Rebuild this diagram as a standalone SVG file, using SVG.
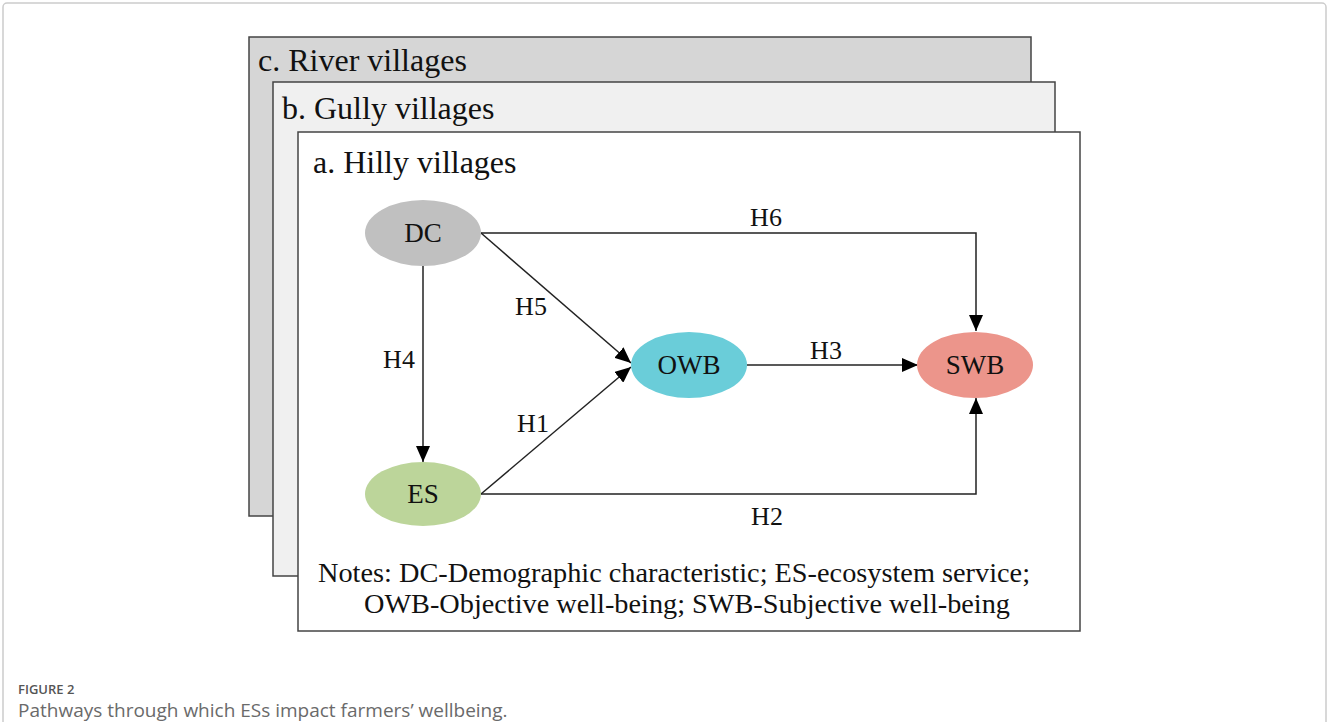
<svg xmlns="http://www.w3.org/2000/svg" width="1327" height="722" viewBox="0 0 1327 722">
<style>
.frame{fill:none;stroke:#cccccc;stroke-width:1.5}
.panel{stroke:#444;stroke-width:1.5}
.ttl{font-family:"Liberation Serif",serif;font-size:32px;fill:#111}
.lbl{font-family:"Liberation Serif",serif;font-size:27px;fill:#111;text-anchor:middle}
.hl{font-family:"Liberation Serif",serif;font-size:26px;fill:#111;text-anchor:middle}
.note{font-family:"Liberation Serif",serif;font-size:28px;fill:#111}
.edge{fill:none;stroke:#222;stroke-width:1.5}
.cap1{font-family:"Open Sans","Liberation Sans",sans-serif;font-size:13px;fill:#555;font-weight:600}
.cap2{font-family:"Open Sans","Liberation Sans",sans-serif;font-size:19px;fill:#6a6a6a}
</style>
<defs>
<marker id="arr" markerWidth="16" markerHeight="14" refX="16" refY="7" orient="auto" markerUnits="userSpaceOnUse">
<path d="M0,0 L16,7 L0,14 Z" fill="#000"/>
</marker>
</defs>
<rect x="3" y="3" width="1323" height="730" rx="4" class="frame"/>
<g id="panel-c"><rect x="249" y="37" width="782" height="479" fill="#d6d6d6" class="panel"/><text x="258" y="71" class="ttl">c. River villages</text></g>
<g id="panel-b"><rect x="273" y="82" width="782" height="494" fill="#f0f0f0" class="panel"/><text x="282" y="119" class="ttl">b. Gully villages</text></g>
<g id="panel-a"><rect x="298" y="132" width="782" height="499" fill="#ffffff" class="panel"/><text x="313" y="173" class="ttl">a. Hilly villages</text></g>
<g id="connectors">
<path class="edge" d="M481,233 H976 V331" marker-end="url(#arr)"/>
<path class="edge" d="M481,233 L631,363" marker-end="url(#arr)"/>
<path class="edge" d="M423,266 V462" marker-end="url(#arr)"/>
<path class="edge" d="M481,494 L631,367" marker-end="url(#arr)"/>
<path class="edge" d="M747,365 H918" marker-end="url(#arr)"/>
<path class="edge" d="M481,494 H976 V398" marker-end="url(#arr)"/>
<text x="766" y="226" class="hl">H6</text>
<text x="531" y="315" class="hl">H5</text>
<text x="399" y="368" class="hl">H4</text>
<text x="533" y="432" class="hl">H1</text>
<text x="826" y="359" class="hl">H3</text>
<text x="767" y="525" class="hl">H2</text>
</g>
<g id="node-DC"><ellipse cx="423" cy="233" rx="58" ry="33" fill="#c0c0c0"/><text x="423" y="242" class="lbl">DC</text></g>
<g id="node-ES"><ellipse cx="423" cy="494" rx="58" ry="32" fill="#bcd59a"/><text x="423" y="503" class="lbl">ES</text></g>
<g id="node-OWB"><ellipse cx="689" cy="365" rx="58" ry="33" fill="#6acdd9"/><text x="689" y="374" class="lbl">OWB</text></g>
<g id="node-SWB"><ellipse cx="975" cy="365" rx="58" ry="33" fill="#ec958b"/><text x="975" y="374" class="lbl">SWB</text></g>
<g id="notes">
<text x="318" y="582" class="note" textLength="712" lengthAdjust="spacingAndGlyphs">Notes: DC-Demographic characteristic; ES-ecosystem service;</text>
<text x="364" y="613" class="note" textLength="646" lengthAdjust="spacingAndGlyphs">OWB-Objective well-being; SWB-Subjective well-being</text>
</g>
<g id="caption">
<text x="18" y="694" class="cap1">FIGURE 2</text>
<text x="18" y="717" class="cap2">Pathways through which ESs impact farmers’ wellbeing.</text>
</g>
</svg>
